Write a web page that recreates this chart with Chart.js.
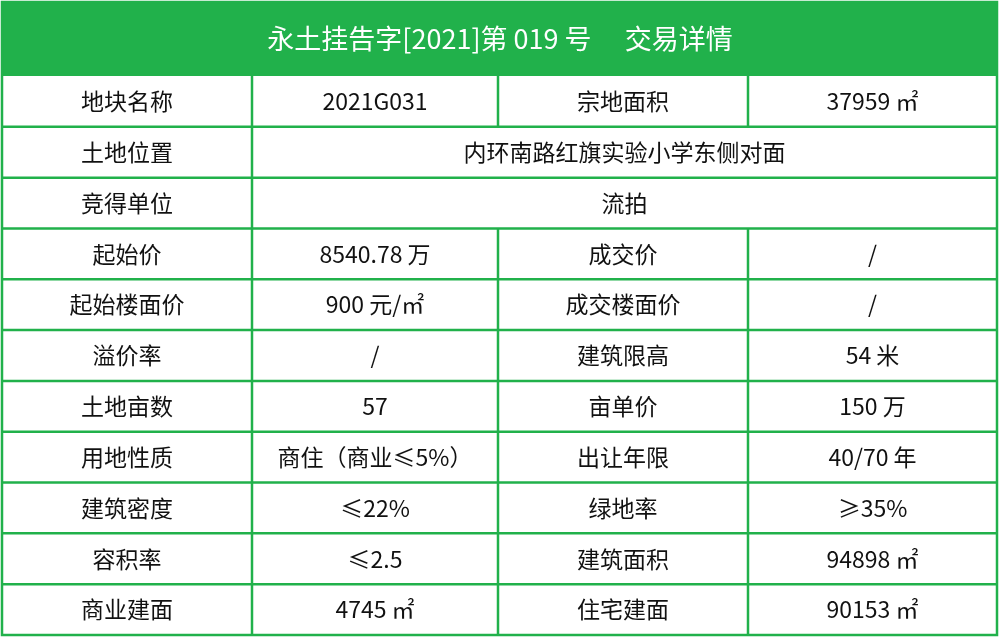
<!DOCTYPE html>
<html><head><meta charset="utf-8">
<script src="https://cdn.jsdelivr.net/npm/chart.js@4/dist/chart.umd.min.js"></script>
<style>html,body{margin:0;padding:0;background:#fff}#w{width:1000px;height:639px}</style>
</head><body><div id="w"><canvas id="c"></canvas></div>
<script>
const title = "永土挂告字[2021]第 019 号　 交易详情";
const leftLabels = ["地块名称","土地位置","竞得单位","起始价","起始楼面价","溢价率","土地亩数","用地性质","建筑密度","容积率","商业建面"];
const leftValues = ["2021G031","内环南路红旗实验小学东侧对面","流拍","8540.78 万","900 元/㎡","/","57","商住（商业≤5%）","≤22%","≤2.5","4745 ㎡"];
const rightLabels = ["宗地面积",null,null,"成交价","成交楼面价","建筑限高","亩单价","出让年限","绿地率","建筑面积","住宅建面"];
const rightValues = ["37959 ㎡",null,null,"/","/","54 米","150 万","40/70 年","≥35%","94898 ㎡","90153 ㎡"];

const GREEN = "#21b14b";
const tablePlugin = {
  id: 'table',
  afterDraw(chart) {
    const ctx = chart.ctx;
    const W = chart.width, H = chart.height;
    const cols = [2, 252, 498, 748, 997];
    const top = 76, bottom = 635, headerTop = 2;
    const n = leftLabels.length;
    const rh = (bottom - top) / n;
    ctx.save();
    ctx.fillStyle = "#fff"; ctx.fillRect(0,0,W,H);
    ctx.fillStyle = GREEN; ctx.fillRect(cols[0], headerTop, cols[4]-cols[0], top-headerTop);
    ctx.fillStyle = "#fff";
    ctx.font = "27px 'Noto Sans CJK SC'";
    ctx.textAlign = "center"; ctx.textBaseline = "middle";
    ctx.fillText(title, W/2, (headerTop+top)/2);
    ctx.strokeStyle = GREEN; ctx.lineWidth = 2.5;
    ctx.strokeRect(cols[0], headerTop, cols[4]-cols[0], bottom-headerTop);
    ctx.font = "23px 'Noto Sans CJK SC'";
    ctx.fillStyle = "#111";
    for (let i = 0; i < n; i++) {
      const y0 = top + i*rh, cy = y0 + rh/2;
      if (i > 0) { ctx.beginPath(); ctx.moveTo(cols[0], y0); ctx.lineTo(cols[4], y0); ctx.stroke(); }
      ctx.beginPath(); ctx.moveTo(cols[1], y0); ctx.lineTo(cols[1], y0+rh); ctx.stroke();
      ctx.fillText(leftLabels[i], (cols[0]+cols[1])/2, cy);
      if (rightLabels[i] === null) {
        ctx.fillText(leftValues[i], (cols[1]+cols[4])/2, cy);
      } else {
        ctx.beginPath(); ctx.moveTo(cols[2], y0); ctx.lineTo(cols[2], y0+rh);
        ctx.moveTo(cols[3], y0); ctx.lineTo(cols[3], y0+rh); ctx.stroke();
        ctx.fillText(leftValues[i], (cols[1]+cols[2])/2, cy);
        ctx.fillText(rightLabels[i], (cols[2]+cols[3])/2, cy);
        ctx.fillText(rightValues[i], (cols[3]+cols[4])/2, cy);
      }
    }
    ctx.restore();
  }
};
new Chart(document.getElementById('c'), {
  type: 'bar',
  data: { labels: leftLabels, datasets: [{ data: [] }] },
  options: {
    responsive: true, maintainAspectRatio: false, animation: false,
    plugins: { legend: { display: false }, tooltip: { enabled: false } },
    scales: { x: { display: false }, y: { display: false } }
  },
  plugins: [tablePlugin]
});
</script></body></html>
